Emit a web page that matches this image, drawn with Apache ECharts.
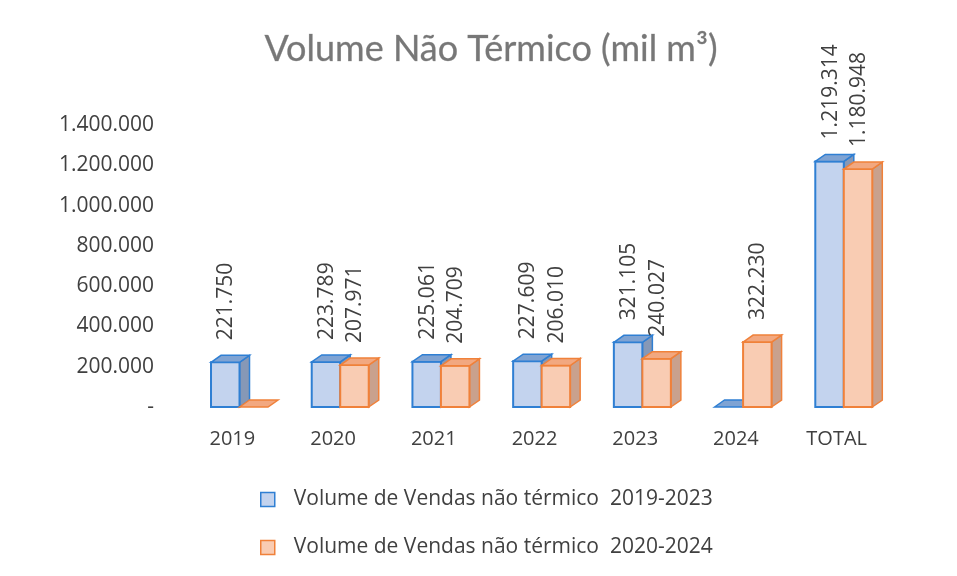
<!DOCTYPE html>
<html>
<head>
<meta charset="utf-8">
<script src="https://cdn.jsdelivr.net/npm/echarts@6/dist/echarts.min.js"></script>
<style>
  html, body { margin: 0; padding: 0; background: #fff; }
  #chart { width: 957px; height: 576px; }
</style>
</head>
<body>
<div id="chart"></div>
<script>
const categories = ["2019", "2020", "2021", "2022", "2023", "2024", "TOTAL"];
const vendas2019a2023 = [221750, 223789, 225061, 227609, 321105, 0, 1219314];
const vendas2020a2024 = [0, 207971, 204709, 206010, 240027, 322230, 1180948];
const seriesNames = [
  "Volume de Vendas não térmico  2019-2023",
  "Volume de Vendas não térmico  2020-2024"
];

// pt-BR thousand separators
function fmt(v) {
  return String(v).replace(/\B(?=(\d{3})+(?!\d))/g, ".");
}

const blue = { front: "#c3d3ee", border: "#2f7fd3", top: "#7fa3d3", side: "#8698b6" };
const orange = { front: "#f9ccb3", border: "#f0813a", top: "#f2a880", side: "#c9a18d" };

// fake excel 3d column: front face + top + right side
function bar3d(offset, c) {
  return function (params, api) {
    const idx = api.value(0);
    const v = api.value(1);
    const base = api.coord([idx, 0]);
    const top = api.coord([idx, v]);
    const bw = api.size([1, 0])[0];
    const w = bw * 0.283;
    const dx = 10, dy = 7;
    const x0 = base[0] + bw * offset;
    const x1 = x0 + w;
    const yb = base[1];
    const yt = top[1];
    const children = [];
    if (v > 0) {
      children.push({
        type: "polygon",
        shape: { points: [[x1, yb], [x1 + dx, yb - dy], [x1 + dx, yt - dy], [x1, yt]] },
        style: { fill: c.side, stroke: c.border, lineWidth: 1.5 }
      });
      children.push({
        type: "rect",
        shape: { x: x0, y: yt, width: w, height: yb - yt },
        style: { fill: c.front, stroke: c.border, lineWidth: 2 }
      });
      children.push({
        type: "text",
        x: x0 + w / 2 + 1,
        y: yt - 22,
        rotation: Math.PI / 2,
        style: {
          text: fmt(v),
          fill: "#404040",
          fontSize: 21,
          fontFamily: "Open Sans",
          align: "left",
          verticalAlign: "middle"
        }
      });
    }
    children.push({
      type: "polygon",
      shape: { points: [[x0, yt], [x0 + dx, yt - dy], [x1 + dx, yt - dy], [x1, yt]] },
      style: { fill: c.top, stroke: c.border, lineWidth: 1.5 }
    });
    return { type: "group", children: children };
  };
}

const chart = echarts.init(document.getElementById("chart"));
chart.setOption({
  animation: false,
  backgroundColor: "#fff",
  title: {
    text: "Volume Não Térmico (mil m³)",
    left: 486,
    textAlign: "center",
    top: 26,
    textStyle: {
      fontFamily: "Lato",
      fontSize: 36,
      fontWeight: "normal",
      color: "#777777",
      textBorderColor: "#b8b8b8",
      textBorderWidth: 0.5
    }
  },
  legend: {
    orient: "vertical",
    left: 255,
    top: 484,
    itemGap: 27,
    itemWidth: 14,
    itemHeight: 14,
    icon: "rect",
    textStyle: { fontFamily: "Open Sans", fontSize: 21, color: "#404040", padding: [0, 0, 0, 14] },
    data: [
      { name: seriesNames[0], itemStyle: { color: blue.front, borderColor: blue.border, borderWidth: 1.5 } },
      { name: seriesNames[1], itemStyle: { color: orange.front, borderColor: orange.border, borderWidth: 1.5 } }
    ]
  },
  grid: { left: 182, right: 70, top: 125, bottom: 169 },
  xAxis: {
    type: "category",
    data: categories,
    axisLine: { show: false },
    axisTick: { show: false },
    axisLabel: { margin: 22, fontFamily: "Open Sans", fontSize: 20, color: "#404040" }
  },
  yAxis: {
    type: "value",
    min: 0,
    max: 1400000,
    interval: 200000,
    splitLine: { show: false },
    axisLine: { show: false },
    axisTick: { show: false },
    axisLabel: {
      margin: 28,
      fontFamily: "Open Sans",
      fontSize: 21,
      color: "#404040",
      formatter: function (v) { return v === 0 ? "-" : fmt(v); }
    }
  },
  series: [
    {
      name: seriesNames[0],
      type: "custom",
      renderItem: bar3d(-0.212, blue),
      itemStyle: { color: blue.front },
      encode: { x: 0, y: 1 },
      data: vendas2019a2023.map(function (v, i) { return [i, v]; })
    },
    {
      name: seriesNames[1],
      type: "custom",
      renderItem: bar3d(0.071, orange),
      itemStyle: { color: orange.front },
      encode: { x: 0, y: 1 },
      data: vendas2020a2024.map(function (v, i) { return [i, v]; })
    }
  ]
});
</script>
</body>
</html>
